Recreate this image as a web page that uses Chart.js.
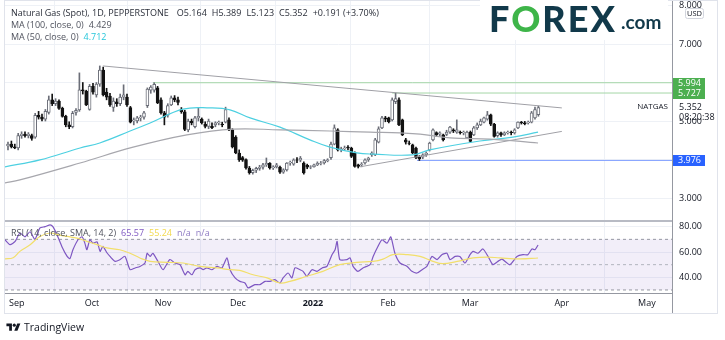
<!DOCTYPE html>
<html>
<head>
<meta charset="utf-8">
<script src="https://cdn.jsdelivr.net/npm/chart.js@4.4.1/dist/chart.umd.min.js"></script>
<style>
  html, body { margin: 0; padding: 0; background: #fff; }
  #wrap { position: relative; width: 725px; height: 340px; overflow: hidden; font-family: 'Open Sans', sans-serif; }
  #chart { position: absolute; left: 0; top: 0; }
  .legend { position: absolute; left: 11px; font-size: 9px; line-height: 12px; color: #2a2e39; white-space: nowrap; }
  .legend span { margin-right: 5px; }
  .muted { color: #50535e; }
  #logo { position: absolute; left: 480px; top: 0; width: 188px; height: 40px; background: #fff; }
  #logo .big { position: absolute; left: 9px; top: -4px; font-family: 'Lato', sans-serif; font-weight: 900; font-size: 36px; letter-spacing: 2px; color: #11394a; }
  #logo .big b { color: #3eb549; font-weight: 900; }
  #logo .com { position: absolute; left: 141px; top: 10px; font-family: 'Lato', sans-serif; font-weight: 700; font-size: 19px; color: #11394a; }
  #tv { position: absolute; left: 6px; top: 320px; font-size: 10.5px; color: #131722; display: flex; align-items: center; }
  #tv svg { margin-right: 3px; }
</style>
</head>
<body>
<div id="wrap">
  <canvas id="chart" width="725" height="340"></canvas>
  <div class="legend" style="top:7px" id="lg1"></div>
  <div class="legend muted" style="top:19px" id="lg2"></div>
  <div class="legend muted" style="top:31px" id="lg3"></div>
  <div class="legend muted" style="top:227px" id="lg4"></div>
  <div id="logo"><div class="big">F<b>O</b>REX</div><div class="com">.com</div></div>
  <div id="tv">
    <svg width="15" height="11" viewBox="0 0 36 28"><path d="M14 22H7V11H0V4h14v18zM28 22h-8l7.5-18h8L28 22z" fill="#131722"/><circle cx="20" cy="8" r="4" fill="#131722"/></svg>
    <span>TradingView</span>
  </div>
</div>
<script>
// Daily candles, Natural Gas (Spot), bar index 0 = start of September
const opens = [4.35,4.40,4.33,4.30,4.62,4.66,4.62,4.62,4.58,5.15,5.10,5.05,5.22,5.55,5.45,5.52,5.33,5.12,4.90,4.85,
  5.22,5.29,5.81,5.78,5.30,5.90,5.68,5.96,6.32,5.75,5.65,5.35,5.50,5.45,5.62,5.62,5.35,5.00,5.00,5.08,
  5.10,5.40,5.80,5.80,5.86,5.55,5.21,5.15,5.42,5.60,5.55,5.30,5.24,4.77,5.00,4.85,5.08,5.05,4.92,4.86,
  4.86,4.90,4.95,4.92,4.97,5.03,4.77,4.58,4.17,4.05,4.00,3.78,3.66,3.72,3.77,3.80,3.86,3.90,3.78,3.81,
  3.80,3.67,3.73,3.91,3.88,3.99,3.98,3.91,3.85,3.80,3.81,3.86,3.90,3.91,3.97,4.05,4.40,4.77,4.25,4.28,
  4.32,4.30,4.17,3.86,3.86,3.91,3.99,4.12,4.12,4.45,4.82,5.08,5.08,5.03,5.50,5.55,5.03,4.51,4.43,4.38,
  4.30,4.06,4.06,4.12,4.25,4.51,4.70,4.66,4.64,4.65,4.71,4.77,4.71,4.71,4.69,4.56,4.71,4.64,4.82,4.90,
  4.97,5.05,5.16,4.92,4.62,4.69,4.64,4.69,4.71,4.69,4.82,4.97,4.95,4.95,4.97,5.08,5.164];
const highs = [4.45,4.48,4.40,4.68,4.72,4.72,4.70,4.66,5.20,5.25,5.18,5.30,5.65,5.70,5.58,5.55,5.36,5.15,4.98,5.25,
  5.32,6.25,6.00,5.80,5.95,5.98,6.00,6.43,6.40,5.85,5.72,5.60,5.58,5.70,5.94,5.70,5.38,5.08,5.12,5.15,
  5.25,5.86,5.92,5.994,5.90,5.60,5.25,5.45,5.65,5.66,5.62,5.35,5.28,5.05,5.05,5.12,5.34,5.08,4.98,5.05,
  4.95,4.98,5.00,4.97,5.36,5.08,4.80,4.62,4.25,4.08,4.02,3.82,3.75,3.80,3.85,3.90,4.04,3.92,3.84,3.90,
  3.83,3.76,3.92,3.96,4.02,4.05,4.08,3.94,3.88,3.84,3.88,3.94,3.95,4.00,4.02,4.45,4.90,4.80,4.32,4.35,
  4.36,4.32,4.20,3.88,3.92,4.02,4.06,4.20,4.55,4.85,5.12,5.12,5.10,5.60,5.727,5.60,5.05,4.55,4.48,4.40,
  4.32,4.10,4.15,4.20,4.45,4.80,4.72,4.72,4.66,4.76,4.86,4.80,5.03,4.74,4.74,4.74,4.74,4.86,4.95,5.05,
  5.10,5.25,5.18,4.94,4.72,4.71,4.72,4.74,4.74,4.80,4.98,4.99,4.99,5.00,5.25,5.36,5.389];
const lows = [4.25,4.30,4.28,4.25,4.55,4.58,4.56,4.50,4.55,5.05,5.00,5.00,5.18,5.40,5.40,5.30,5.10,4.85,4.80,4.82,
  5.15,5.25,5.70,5.40,5.28,5.70,5.62,5.90,5.65,5.55,5.38,5.25,5.38,5.40,5.55,5.38,4.95,4.90,4.95,5.00,
  5.05,5.35,5.72,5.75,5.45,5.18,4.90,5.10,5.40,5.50,5.42,5.20,4.75,4.72,4.90,4.82,5.00,4.92,4.82,4.80,
  4.80,4.85,4.90,4.85,4.95,4.75,4.30,4.15,3.95,3.95,3.75,3.62,3.62,3.66,3.72,3.75,3.82,3.75,3.74,3.78,
  3.64,3.64,3.70,3.85,3.85,3.92,3.94,3.62,3.76,3.76,3.80,3.84,3.86,3.88,3.94,4.00,4.38,4.22,4.20,4.24,
  4.25,4.05,3.80,3.78,3.81,3.88,3.95,4.08,4.10,4.43,4.80,4.98,4.95,5.00,5.45,4.88,4.62,4.40,4.38,4.15,
  4.02,3.976,4.02,4.08,4.22,4.48,4.60,4.60,4.48,4.62,4.68,4.70,4.68,4.66,4.64,4.54,4.45,4.62,4.78,4.88,
  4.95,5.02,4.88,4.58,4.58,4.60,4.62,4.66,4.64,4.66,4.80,4.92,4.90,4.92,4.95,5.05,5.123];
const closes = [4.40,4.33,4.30,4.62,4.66,4.62,4.66,4.55,5.15,5.10,5.05,5.25,5.55,5.45,5.52,5.33,5.12,4.90,4.85,5.20,
  5.28,5.81,5.78,5.42,5.90,5.75,5.96,6.32,5.68,5.62,5.42,5.52,5.45,5.62,5.68,5.42,4.97,5.03,5.08,5.10,
  5.21,5.83,5.88,5.95,5.47,5.21,5.10,5.40,5.60,5.55,5.48,5.24,4.78,5.00,4.95,5.08,5.12,4.95,4.86,5.00,
  4.83,4.95,4.97,4.90,5.30,4.77,4.33,4.17,3.99,3.98,3.78,3.66,3.72,3.77,3.80,3.86,3.90,3.78,3.81,3.86,
  3.67,3.73,3.91,3.93,3.99,3.98,4.04,3.65,3.80,3.81,3.86,3.90,3.91,3.97,3.99,4.40,4.82,4.25,4.28,4.30,
  4.30,4.08,3.82,3.82,3.88,3.99,4.04,4.17,4.51,4.80,5.08,5.05,4.98,5.55,5.58,4.90,4.64,4.45,4.42,4.17,
  4.04,4.02,4.12,4.17,4.43,4.77,4.64,4.69,4.51,4.71,4.84,4.74,4.77,4.69,4.71,4.71,4.47,4.82,4.90,5.00,
  5.08,5.16,4.92,4.60,4.69,4.64,4.69,4.71,4.70,4.77,4.97,4.95,4.93,4.97,5.21,5.30,5.352];

// moving averages: [bar index, value]
const ma50Points = [[-0.9,3.81],[9.4,3.99],[21.2,4.30],[27,4.43],[35.9,4.74],[41.8,4.95],[51.5,5.31],[59.4,5.34],
  [65.3,5.29],[71.2,5.08],[80,4.84],[88.8,4.51],[94.7,4.32],[102.6,4.17],[107.4,4.14],[119,4.12],[124,4.25],
  [138.8,4.48],[148.5,4.58],[155.9,4.712]];
const ma100Points = [[-0.9,3.39],[3.5,3.47],[21.2,3.91],[36.8,4.32],[52.6,4.64],[66.2,4.79],[80,4.77],[94.7,4.74],
  [106.5,4.71],[115.3,4.69],[121.2,4.66],[130,4.56],[141.8,4.53],[155.9,4.429]];

// RSI(14) and its SMA(14)
const rsiPoints = [[-0.9,69.7],[0.6,65.8],[2.1,68.4],[3.5,75],[5,72],[6.5,76],[7.9,70],[9.4,79],[10.9,80],[12.4,81.5],
  [13.2,80],[14.4,73.7],[15.9,64],[17.4,56.5],[18.2,54.7],[19.1,61.8],[20.6,69.7],[21.8,72],[22.6,67],[23.2,61.8],
  [24.1,69.7],[25,67],[26.2,68],[27.1,60.5],[27.9,64.4],[29.1,59.4],[30,56.5],[31.5,52.6],[32.9,53.9],[34.4,56.5],
  [35.9,46],[37.4,47.4],[38.8,48.6],[40.3,51.3],[40.9,59],[41.8,56.5],[42.6,59],[44.1,52.6],[45.6,46],[47.6,54],
  [49.1,51.3],[50.6,50],[52.1,42],[52.9,44.7],[54.1,42],[55,46],[56.5,47.4],[57.4,46],[58.5,47.4],[60,46],
  [61.5,48.6],[62.9,47.4],[64.4,55.3],[65.3,46],[66.8,39.5],[68.2,36.8],[69.7,35.5],[70.6,31.6],[72.6,34.2],[74.1,34.2],
  [75.6,36.8],[77.1,36.8],[78.5,38.1],[80,35.5],[80.9,39.5],[82.4,43.4],[83.5,39.5],[84.4,47.4],[85.9,46],[86.8,44.7],
  [87.9,40.8],[89.4,46],[90.9,44.7],[92.4,47.4],[93.8,48.6],[95.3,57.9],[96.2,61.8],[96.8,68.4],[97.6,54],[99.7,54],
  [100.6,55.3],[101.5,48.6],[102.9,44.7],[104.4,47.4],[106.5,50],[107.4,56.5],[108.8,64.4],[110,69.7],[111.5,67],[112.6,72],
  [113.8,59],[115.3,51.3],[117.4,48.6],[118.8,44.7],[120.3,43.4],[121.8,46],[123.2,48.6],[124.7,56.5],[126.2,54],[127.6,57.9],
  [129.1,59],[130,54],[131.5,56.5],[132.9,56.5],[134.4,51.3],[135.9,57.9],[136.8,60.5],[138.2,59],[139.7,62.4],[141.2,56.5],
  [142.6,50],[144.1,52.6],[145.3,54.4],[147.6,50],[149.7,56.5],[151.5,57.9],[152.9,57.9],[154.1,62.4],[155,61.8],[155.9,65.57]];
const rsiSmaPoints = [[-0.9,54.5],[1.5,55.5],[3.5,60.5],[6.5,65.8],[9.4,72.3],[12.4,75],[14.7,73.7],[17.4,72.3],
  [20.3,71],[23.2,68.4],[26.2,65.8],[29.1,63.2],[32.9,61.8],[35.9,59],[38.8,55.3],[41.8,52.6],[46.8,51.8],[51.5,51.3],
  [56.5,48.6],[61.5,47.4],[65.3,46],[68.2,45.5],[72.1,42],[76.2,39.5],[80,35.5],[82.9,36.8],[87.9,40.8],[92.6,44.7],
  [97.6,50],[102.6,51.8],[107.4,52.6],[110.3,54.4],[113.2,57.9],[117.4,57.9],[121.2,56.5],[125,52.6],[127.9,50.8],
  [132.1,52.6],[136.8,55.3],[140.9,56],[144.7,55.3],[150.6,54.5],[155.9,55.24]];

// drawn lines: two-point trend lines and horizontal levels
const trendHigh = [[27.9,6.43],[162.9,5.34]];
const trendLow = [[103.5,3.81],[162.9,4.73]];
const levelValues = [5.994, 5.727, 3.976];
const levelStart = [42.6, 113, 120.3];

// axes
const monthIdx = [2.6, 24.7, 45.6, 67.6, 89.7, 111.8, 135.9, 162.9, 187.9];
const monthLabels = ['Sep', 'Oct', 'Nov', 'Dec', '2022', 'Feb', 'Mar', 'Apr', 'May'];
const priceTicks = [3, 4, 5, 6, 7, 8];
const rsiTicks = [40, 60, 80];
const rsiBands = [70, 50, 30];

const X_MIN = -0.88, X_MAX = 195.3;
const FONT = "'Open Sans', sans-serif";

const last = closes.length - 1;
const prevClose = 5.161;
const chg = closes[last] - prevClose;

document.getElementById('lg1').innerHTML =
  '<span style="margin-right:8px">Natural Gas (Spot), 1D, PEPPERSTONE</span>' +
  '<span>O' + opens[last].toFixed(3) + '</span><span>H' + highs[last].toFixed(3) + '</span>' +
  '<span>L' + lows[last].toFixed(3) + '</span><span>C' + closes[last].toFixed(3) + '</span>' +
  '<span>+' + chg.toFixed(3) + ' (+' + (chg / prevClose * 100).toFixed(2) + '%)</span>';
document.getElementById('lg2').innerHTML = '<span>MA (100, close, 0)</span><span>' + ma100Points[ma100Points.length - 1][1].toFixed(3) + '</span>';
document.getElementById('lg3').innerHTML = '<span>MA (50, close, 0)</span><span style="color:#26c6da">' + ma50Points[ma50Points.length - 1][1].toFixed(3) + '</span>';
document.getElementById('lg4').innerHTML = '<span>RSI (14, close, SMA, 14, 2)</span>' +
  '<span style="color:#7e57c2">' + rsiPoints[rsiPoints.length - 1][1].toFixed(2) + '</span>' +
  '<span style="color:#f2d94e">' + rsiSmaPoints[rsiSmaPoints.length - 1][1].toFixed(2) + '</span>' +
  '<span style="color:#8f7bc4">n/a</span><span style="color:#8f7bc4">n/a</span>';

const pts = arr => arr.map(p => ({ x: p[0], y: p[1] }));
const isUp = closes.map((c, i) => c >= opens[i]);

const wicks = highs.map((h, i) => ({ x: i, y: [lows[i], h] }));
const bodies = opens.map((o, i) => ({ x: i, y: [Math.min(o, closes[i]), Math.max(o, closes[i])] }));

function flatLine(v, from, color, dash, axis) {
  return {
    type: 'line', yAxisID: axis, data: [{ x: from, y: v }, { x: X_MAX, y: v }],
    borderColor: color, borderWidth: 1, borderDash: dash || [], pointRadius: 0, fill: false, order: 3
  };
}

// keep the plot area edge-to-edge: no automatic room for half tick labels
const noPad = s => { s.paddingTop = 0; s.paddingBottom = 0; s.paddingLeft = 0; s.paddingRight = 0; };

const datasets = [
  { type: 'bar', yAxisID: 'y', data: bodies, grouped: false, barThickness: 3, order: 1,
    backgroundColor: isUp.map(u => u ? '#ffffff' : '#131313'),
    borderColor: isUp.map(u => u ? '#6b6e78' : '#131313'),
    borderWidth: 1, borderSkipped: false },
  { type: 'bar', yAxisID: 'y', data: wicks, grouped: false, barThickness: 1, order: 2,
    backgroundColor: isUp.map(u => u ? '#6b6e78' : '#131313') },
  { type: 'line', yAxisID: 'y', data: pts(ma100Points), borderColor: '#a7a7ad', borderWidth: 1.2, pointRadius: 0, tension: 0.4, order: 0 },
  { type: 'line', yAxisID: 'y', data: pts(ma50Points), borderColor: '#4dd0e1', borderWidth: 1.2, pointRadius: 0, tension: 0.4, order: 0 },
  { type: 'line', yAxisID: 'y', data: pts(trendHigh), borderColor: '#a0a0a6', borderWidth: 1, pointRadius: 0, order: 0 },
  { type: 'line', yAxisID: 'y', data: pts(trendLow), borderColor: '#a0a0a6', borderWidth: 1, pointRadius: 0, order: 0 },
  flatLine(levelValues[0], levelStart[0], '#a5d6a7', null, 'y'),
  flatLine(levelValues[1], levelStart[1], '#a5d6a7', null, 'y'),
  flatLine(levelValues[2], levelStart[2], '#82a0ff', null, 'y'),
  // RSI pane: band between 70 and 30 with dashed guides
  Object.assign(flatLine(rsiBands[0], X_MIN, '#9598a1', [3, 3], 'rsi'), { order: 5 }),
  Object.assign(flatLine(rsiBands[2], X_MIN, '#9598a1', [3, 3], 'rsi'), { order: 5, fill: '-1', backgroundColor: 'rgba(126,87,194,0.10)' }),
  flatLine(rsiBands[1], X_MIN, '#b2b5be', [3, 3], 'rsi'),
  { type: 'line', yAxisID: 'rsi', data: pts(rsiSmaPoints), borderColor: '#f2df6b', borderWidth: 1.2, pointRadius: 0, tension: 0.4, order: 0 },
  { type: 'line', yAxisID: 'rsi', data: pts(rsiPoints), borderColor: '#7e57c2', borderWidth: 1.2, pointRadius: 0, tension: 0.2, order: 0 }
];

// tags on the price scale, pane divider and outer frame
const overlay = {
  id: 'overlay',
  afterDraw(chart) {
    const { ctx, chartArea: a, scales } = chart;
    const y = scales.y;
    ctx.save();
    ctx.fillStyle = '#b8bbc4';
    ctx.fillRect(a.left, Math.round(scales.rsi.top) - 1, a.right - a.left, 2);
    ctx.fillStyle = '#9598a1';
    ctx.fillRect(Math.round(a.right), a.bottom, 1, 20);
    ctx.strokeStyle = '#e0e3eb';
    ctx.lineWidth = 1;
    ctx.strokeRect(4.5, 0.5, 713, 313);

    ctx.font = '9px ' + FONT;
    ctx.textBaseline = 'middle';
    const tagColors = ['#4caf50', '#4caf50', '#2962ff'];
    levelValues.forEach((v, k) => {
      const py = Math.round(y.getPixelForValue(v));
      ctx.fillStyle = tagColors[k];
      ctx.fillRect(a.right + 1, py - 5, 32, 11);
      ctx.fillStyle = '#fff';
      ctx.fillText(v.toFixed(3), a.right + 6, py + 0.5);
    });

    const ly = Math.round(y.getPixelForValue(closes[last]));
    ctx.fillStyle = '#fff';
    ctx.fillRect(a.right + 1, ly - 6, 40, 17);
    ctx.fillStyle = '#131722';
    ctx.fillText(closes[last].toFixed(3), a.right + 7, ly);
    ctx.fillText('08:20:38', a.right + 7, ly + 10);
    ctx.textAlign = 'right';
    ctx.font = '8px ' + FONT;
    ctx.fillText('NATGAS', a.right - 4, ly);

    // currency badge
    ctx.textAlign = 'center';
    ctx.fillStyle = '#fff';
    ctx.strokeStyle = '#d1d4dc';
    ctx.beginPath();
    ctx.roundRect(685.5, 8.5, 18, 10, 2);
    ctx.fill();
    ctx.stroke();
    ctx.fillStyle = '#131722';
    ctx.font = '7.5px ' + FONT;
    ctx.fillText('USD', 694.5, 14);
    ctx.restore();
  }
};

new Chart(document.getElementById('chart'), {
  type: 'bar',
  data: { datasets },
  options: {
    responsive: false,
    animation: false,
    layout: { padding: { left: 5, right: 8, top: 1, bottom: 27 } },
    plugins: { legend: { display: false }, tooltip: { enabled: false } },
    scales: {
      x: {
        type: 'linear', min: X_MIN, max: X_MAX, offset: false,
        afterBuildTicks: s => { s.ticks = monthIdx.map(v => ({ value: v })); },
        afterFit: s => { s.height = 20; noPad(s); },
        ticks: {
          autoSkip: false, maxRotation: 0, padding: 5, color: '#131722',
          font: ctx => ({ family: FONT, size: 9, weight: monthLabels[ctx.index] === '2022' ? 'bold' : 'normal' }),
          callback: (v, i) => monthLabels[i]
        },
        grid: { color: '#eef1f6', drawTicks: false },
        border: { color: '#9598a1' }
      },
      y: {
        position: 'right', stack: 'panes', stackWeight: 220,
        min: 2.403, max: 8.117,
        afterBuildTicks: s => { s.ticks = priceTicks.map(v => ({ value: v })); },
        afterFit: s => { s.width = 45; noPad(s); },
        ticks: { padding: 7, color: '#131722', font: { family: FONT, size: 9 }, callback: v => v.toFixed(3) },
        grid: { color: '#eef1f6', drawTicks: false },
        border: { color: '#9598a1' }
      },
      rsi: {
        position: 'right', stack: 'panes', stackWeight: 72,
        min: 27.6, max: 84.5,
        afterBuildTicks: s => { s.ticks = rsiTicks.map(v => ({ value: v })); },
        afterFit: s => { s.width = 45; noPad(s); },
        ticks: { padding: 7, color: '#131722', font: { family: FONT, size: 9 }, callback: v => v.toFixed(2) },
        grid: { color: '#eef1f6', drawTicks: false },
        border: { color: '#9598a1' }
      }
    }
  },
  plugins: [overlay]
});
</script>
</body>
</html>
